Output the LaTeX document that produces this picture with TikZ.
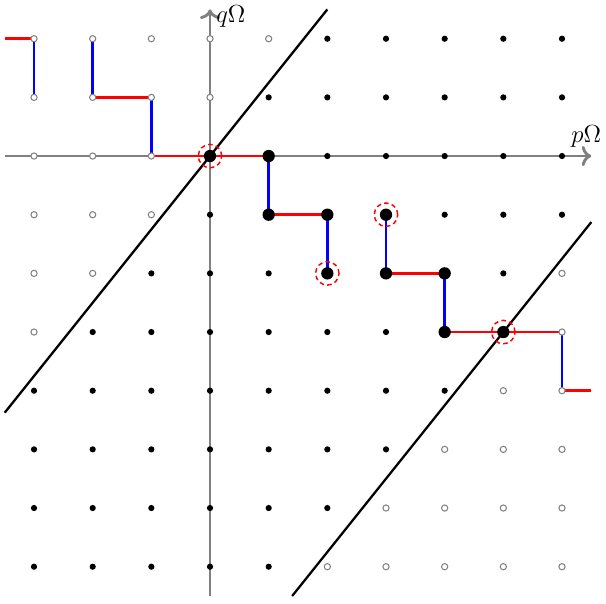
\documentclass[tikz,border=0pt]{standalone}
\usepackage{amsmath,amssymb}
\usepackage{tikz}
\usetikzlibrary{arrows.meta}
\definecolor{AxisGray}{RGB}{128,128,128}
\definecolor{StepRed}{RGB}{255,0,0}
\definecolor{StepBlue}{RGB}{0,0,255}

\begin{document}
\begin{tikzpicture}[
  axis/.style={->,draw=AxisGray,line width=1.4pt},
  bound/.style={draw=black,line width=1.1pt},
  hstep/.style={draw=StepRed,line width=1.25pt},
  vstep/.style={draw=StepBlue,line width=1.25pt},
  full/.style={fill=black},
  open/.style={draw=AxisGray,fill=white,line width=0.5pt},
  ring/.style={draw=StepRed,line width=0.7pt,dash pattern=on 2.2pt off 1.6pt}]
  \useasboundingbox (-3.58,-7.62) rectangle (6.75,2.66);
  % lattice points
  \foreach \i in {-3,...,6}
    \foreach \j in {-7,...,2}
      \coordinate (v\i\j) at (\i,\j);
  \coordinate (pw) at (-3.5,0);
  \coordinate (pe) at (6.5,0);
  \coordinate (qs) at (0,-7.5);
  \coordinate (qn) at (0,2.5);
  \coordinate (west) at (-3.5,2);
  \coordinate (east) at (6.5,-4);
  \coordinate (a1) at (-3.5,-4.375);
  \coordinate (a2) at (2,2.5);
  \coordinate (b1) at (1.4,-7.5);
  \coordinate (b2) at (6.5,-1.125);
  % axes
  \draw[axis] (pw) -- (pe) node[above,font=\large,text=black,xshift=-2.5pt] (plabel) {$p\Omega$};
  \draw[axis] (qs) -- (qn) node[right,font=\large,text=black,xshift=-1pt,yshift=-3.5pt] (qlabel) {$q\Omega$};
  % the two lines
  \draw[bound] (a1) -- (a2);
  \draw[bound] (b1) -- (b2);
  % staircase
  \draw[hstep] (west) -- (v-32);
  \foreach \a/\b in {-21/-11,-10/00,00/10,1-1/2-1,3-2/4-2,4-3/5-3,5-3/6-3}
    \draw[hstep] (v\a) -- (v\b);
  \draw[hstep] (v6-4) -- (east);
  \foreach \a/\b in {-32/-31,-22/-21,-11/-10,10/1-1,2-1/2-2,3-1/3-2,4-2/4-3,6-3/6-4}
    \draw[vstep] (v\a) -- (v\b);
  % dots
  \foreach \i in {-3,...,6}
    \foreach \j in {-7,...,2}{
      \pgfmathtruncatemacro\k{5*\i-4*\j}
      \ifnum\k<0 \def\sty{open}\else\ifnum\k>37 \def\sty{open}\else\def\sty{full}\fi\fi
      \path[\sty] (v\i\j) circle (0.053);
    }
  \foreach \c in {00,10,1-1,2-1,2-2,3-1,3-2,4-2,4-3,5-3}
    \fill (v\c) circle (0.105);
  \foreach \c in {00,2-2,3-1,5-3}
    \draw[ring] (v\c) circle (0.2);
\end{tikzpicture}
\end{document}
